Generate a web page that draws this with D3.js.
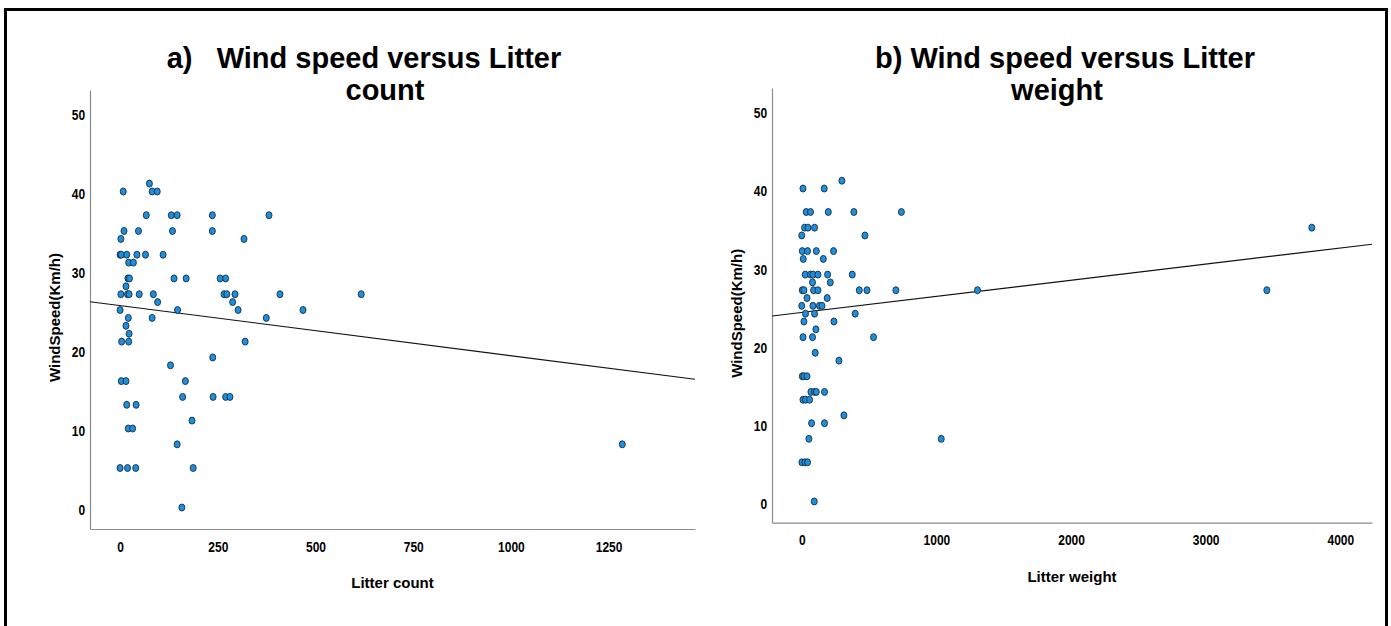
<!DOCTYPE html>
<html>
<head>
<meta charset="utf-8">
<script src="https://cdn.jsdelivr.net/npm/d3@7"></script>
<style>
  body { margin: 0; background: #fff; }
  svg { display: block; }
  .title { font-family: "Liberation Sans", Arial, sans-serif; font-weight: bold; font-size: 29px; fill: #000; white-space: pre; }
  .axis-title { font-family: "Liberation Sans", Arial, sans-serif; font-weight: bold; font-size: 15px; fill: #000; }
  .axis text { font-family: "Liberation Sans", Arial, sans-serif; font-weight: bold; font-size: 15px; fill: #000; }
  .axis path { stroke: #8c8c8c; stroke-width: 1.2; }
</style>
</head>
<body>
<div id="chart"></div>
<script>
// Panel a) litter count vs wind speed
var litterCount = [75,
  8, 82, 95,
  67, 131, 146, 236, 381,
  10, 47, 134, 236,
  2, 317,
  0, 3, 17, 43, 65, 110,
  22, 34,
  20, 24, 138, 169, 256, 270,
  15,
  2, 19, 23, 49, 85, 266, 273, 294, 409, 617,
  96, 288,
  0, 147, 302, 468,
  21, 82, 374,
  15,
  23,
  4, 22, 320,
  237,
  129,
  3, 15, 167,
  160, 238, 270, 281,
  17, 41,
  184,
  21, 32,
  146, 1285,
  0, 19, 40, 187,
  158];
var windSpeedA = [41,
  40, 40, 40,
  37, 37, 37, 37, 37,
  35, 35, 35, 35,
  34, 34,
  32, 32, 32, 32, 32, 32,
  31, 31,
  29, 29, 29, 29, 29, 29,
  28,
  27, 27, 27, 27, 27, 27, 27, 27, 27, 27,
  26, 26,
  25, 25, 25, 25,
  24, 24, 24,
  23,
  22,
  21, 21, 21,
  19,
  18,
  16, 16, 16,
  14, 14, 14, 14,
  13, 13,
  11,
  10, 10,
  8, 8,
  5, 5, 5, 5,
  0];

// Panel b) litter weight vs wind speed
var litterWeight = [298,
  9, 167,
  33, 65, 197, 387, 740,
  21, 46, 95, 3788,
  0, 469,
  4, 43, 108, 236,
  11, 160,
  26, 65, 83, 120, 192, 375,
  80, 212,
  4, 16, 88, 120, 427, 484, 699, 1305, 3454,
  39, 189,
  0, 83, 131, 150,
  28, 95, 397,
  16, 239,
  105,
  9, 80, 533,
  100,
  276,
  4, 16, 39,
  68, 95, 108, 169,
  9, 28, 58,
  313,
  73, 169,
  53, 1036,
  1, 24, 43,
  93];
var windSpeedB = [41,
  40, 40,
  37, 37, 37, 37, 37,
  35, 35, 35, 35,
  34, 34,
  32, 32, 32, 32,
  31, 31,
  29, 29, 29, 29, 29, 29,
  28, 28,
  27, 27, 27, 27, 27, 27, 27, 27, 27,
  26, 26,
  25, 25, 25, 25,
  24, 24, 24,
  23, 23,
  22,
  21, 21, 21,
  19,
  18,
  16, 16, 16,
  14, 14, 14, 14,
  13, 13, 13,
  11,
  10, 10,
  8, 8,
  5, 5, 5,
  0];

// tick labels
var yTicks = [0, 10, 20, 30, 40, 50];
var countTicks = [0, 250, 500, 750, 1000, 1250];
var weightTicks = [0, 1000, 2000, 3000, 4000];

// fit lines
var fitA = [25.56, -0.00634];   // intercept, slope
var fitB = [24.155, 0.002059];

var width = 1391, height = 626;

var svg = d3.select("#chart").append("svg")
    .attr("width", width)
    .attr("height", height);

// outer frame
svg.append("rect")
    .attr("x", 5.5)
    .attr("y", 9.5)
    .attr("width", 1381)
    .attr("height", 700)
    .attr("fill", "none")
    .attr("stroke", "#000")
    .attr("stroke-width", 3);

const drawPanel = (p) => {
  var x = d3.scaleLinear().domain(p.xDomain).range([p.left, p.right]);
  var y = d3.scaleLinear().domain([-2.72, 52.85]).range([p.bottom, p.top]);

  // Add the X Axis
  svg.append("g")
      .attr("class", "axis")
      .attr("transform", "translate(0," + p.bottom + ")")
      .call(d3.axisBottom(x).tickValues(p.xTicks).tickSize(0).tickPadding(12).tickFormat(d3.format("d")))
    .selectAll("text")
      .attr("transform", "scale(0.8,1)");

  // Add the Y Axis
  svg.append("g")
      .attr("class", "axis")
      .attr("transform", "translate(" + p.left + ",0)")
      .call(d3.axisLeft(y).tickValues(yTicks).tickSize(0).tickPadding(6))
    .selectAll("text")
      .attr("y", 2.5)
      .attr("transform", "scale(0.8,1)");

  // the fit line
  var line = d3.line()
      .x(function(d) { return x(d); })
      .y(function(d) { return y(p.fit[0] + p.fit[1] * d); });
  svg.append("path")
      .datum(p.xDomain)
      .attr("d", line)
      .attr("fill", "none")
      .attr("stroke", "#111")
      .attr("stroke-width", 1.2);

  // points
  svg.append("g").selectAll("ellipse")
      .data(p.xs)
    .enter().append("ellipse")
      .attr("cx", function(d) { return x(d); })
      .attr("cy", function(d, i) { return y(p.ys[i]); })
      .attr("rx", 3)
      .attr("ry", 3.5)
      .attr("fill", "#1b8fe0")
      .attr("stroke", "#1c2b3a")
      .attr("stroke-width", 0.9);

  // axis titles
  svg.append("text")
      .attr("class", "axis-title")
      .attr("x", (p.left + p.right) / 2)
      .attr("y", p.bottom + 59)
      .attr("text-anchor", "middle")
      .text(p.xLabel);
  svg.append("text")
      .attr("class", "axis-title")
      .attr("text-anchor", "middle")
      .attr("transform", "translate(" + (p.left - 30) + "," + ((p.top + p.bottom) / 2 + 8) + ") rotate(-90)")
      .text("WindSpeed(Km/h)");

  // chart title, two lines
  svg.append("text")
      .attr("class", "title")
      .attr("x", p.titleX)
      .attr("y", 68)
      .text(p.title[0]);
  svg.append("text")
      .attr("class", "title")
      .attr("x", p.title2X)
      .attr("y", 100)
      .attr("text-anchor", "middle")
      .text(p.title[1]);
}

drawPanel({
  xs: litterCount, ys: windSpeedA,
  xDomain: [-77, 1471], xTicks: countTicks,
  left: 90, right: 695, top: 90, bottom: 529,
  fit: fitA,
  xLabel: "Litter count",
  title: ["a)   Wind speed versus Litter", "count"],
  titleX: 166.7, title2X: 385
});

drawPanel({
  xs: litterWeight, ys: windSpeedB,
  xDomain: [-221, 4235], xTicks: weightTicks,
  left: 772, right: 1372, top: 88, bottom: 522.7,
  fit: fitB,
  xLabel: "Litter weight",
  title: ["b) Wind speed versus Litter", "weight"],
  titleX: 875, title2X: 1057
});
</script>
</body>
</html>
